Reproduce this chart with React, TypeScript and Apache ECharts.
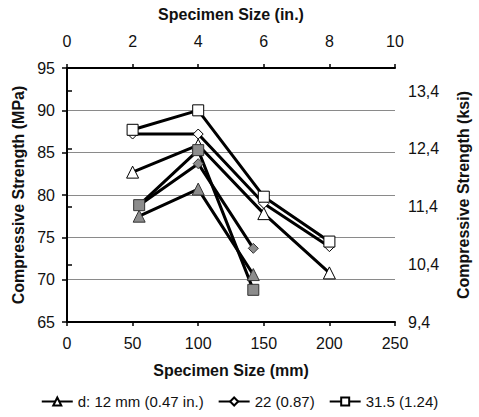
import React, { useEffect, useRef } from "react";
import * as echarts from "echarts";

const xOpen = [50, 100, 150, 200];
const xGray = [55, 100, 142];

const openTriangle = [82.7, 85.9, 77.8, 70.8];
const openDiamond = [87.2, 87.2, 79.0, 73.9];
const openSquare = [87.7, 90.0, 79.8, 74.5];

const grayTriangle = [77.5, 80.7, 70.6];
const grayDiamond = [78.8, 83.7, 73.7];
const graySquare = [78.8, 85.3, 68.8];

const legendNames = ["d: 12 mm (0.47 in.)", "22 (0.87)", "31.5 (1.24)"];

const FONT = "Liberation Sans, Arial, sans-serif";
const TICK = 16;
const TITLE = 16;

function pairs(xs: number[], ys: number[]) {
  return xs.map((x, i) => [x, ys[i]]);
}

export default function App() {
  const ref = useRef<HTMLDivElement>(null);
  useEffect(() => {
    if (!ref.current) return;
    const chart = echarts.init(ref.current, undefined, { renderer: "svg" });
    const lineStyle = { color: "#000", width: 3 };
    const mk = (
      name: string,
      xs: number[],
      ys: number[],
      symbol: string,
      size: number,
      fill: string
    ) => ({
      type: "line",
      name,
      data: pairs(xs, ys),
      symbol,
      symbolSize: size,
      showAllSymbol: true,
      lineStyle,
      itemStyle: { color: fill, borderColor: fill === "#fff" ? "#000" : "#333", borderWidth: 1 },
      emphasis: { disabled: true },
      xAxisIndex: 0,
      yAxisIndex: 0,
    });
    const titleStyle = { fontSize: TITLE, fontWeight: "bold", color: "#111", fontFamily: FONT };
    const labelStyle = { fontSize: TICK, color: "#111", fontFamily: FONT };
    chart.setOption({
      animation: false,
      textStyle: { fontFamily: FONT },
      grid: { left: 67, right: 68, top: 68, bottom: 95 },
      legend: {
        data: legendNames,
        bottom: 3,
        left: "center",
        itemGap: 14,
        itemWidth: 31,
        itemHeight: 10,
        textStyle: { fontSize: 15, color: "#111", fontFamily: FONT },
      },
      xAxis: [
        {
          type: "value",
          position: "bottom",
          min: 0,
          max: 250,
          interval: 50,
          name: "Specimen Size (mm)",
          nameLocation: "middle",
          nameGap: 40,
          nameTextStyle: titleStyle,
          axisLine: { show: true, lineStyle: { color: "#000", width: 2 } },
          axisTick: { show: true, length: 4, lineStyle: { color: "#000", width: 1.5 } },
          axisLabel: { ...labelStyle, margin: 13 },
          splitLine: { show: false },
        },
        {
          type: "value",
          position: "top",
          min: 0,
          max: 10,
          interval: 2,
          name: "Specimen Size (in.)",
          nameLocation: "middle",
          nameGap: 46,
          nameTextStyle: titleStyle,
          axisLine: { show: true, lineStyle: { color: "#000", width: 2 } },
          axisTick: { show: true, length: 4, lineStyle: { color: "#000", width: 1.5 } },
          axisLabel: { ...labelStyle, margin: 19 },
          splitLine: { show: false },
        },
      ],
      yAxis: [
        {
          type: "value",
          position: "left",
          min: 65,
          max: 95,
          interval: 5,
          name: "Compressive Strength (MPa)",
          nameLocation: "middle",
          nameGap: 37,
          nameTextStyle: titleStyle,
          axisLine: { show: true, lineStyle: { color: "#000", width: 2 } },
          axisTick: { show: true, length: 5, lineStyle: { color: "#000", width: 1.5 } },
          axisLabel: { ...labelStyle, margin: 12 },
          splitLine: { show: true, lineStyle: { color: "#8a8a8a", width: 1 } },
        },
        {
          type: "value",
          position: "right",
          min: 9,
          max: 13.4,
          interval: 1,
          name: "Compressive Strength (ksi)",
          nameLocation: "middle",
          nameGap: 60,
          nameTextStyle: titleStyle,
          axisLine: { show: true, lineStyle: { color: "#000", width: 2 } },
          axisTick: { show: true, length: 5, lineStyle: { color: "#000", width: 1.5 } },
          axisLabel: {
            ...labelStyle,
            margin: 13,
            formatter: (v: number) =>
              Math.abs(v - Math.round(v)) < 1e-6 ? (v + 0.4).toFixed(1).replace(".", ",") : "",
          },
          splitLine: { show: false },
        },
      ],
      series: [
        mk(legendNames[0], xOpen, openTriangle, "triangle", 12, "#fff"),
        mk(legendNames[1], xOpen, openDiamond, "diamond", 10, "#fff"),
        mk(legendNames[2], xOpen, openSquare, "rect", 11, "#fff"),
        mk("gray triangle", xGray, grayTriangle, "triangle", 12, "#8c8c8c"),
        mk("gray diamond", xGray, grayDiamond, "diamond", 10, "#8c8c8c"),
        mk("gray square", xGray, graySquare, "rect", 11, "#8c8c8c"),
      ],
    });
    return () => chart.dispose();
  }, []);
  return (
    <div
      ref={ref}
      style={{ position: "absolute", left: 0, top: 0, width: 479, height: 417, background: "#fff" }}
    />
  );
}
